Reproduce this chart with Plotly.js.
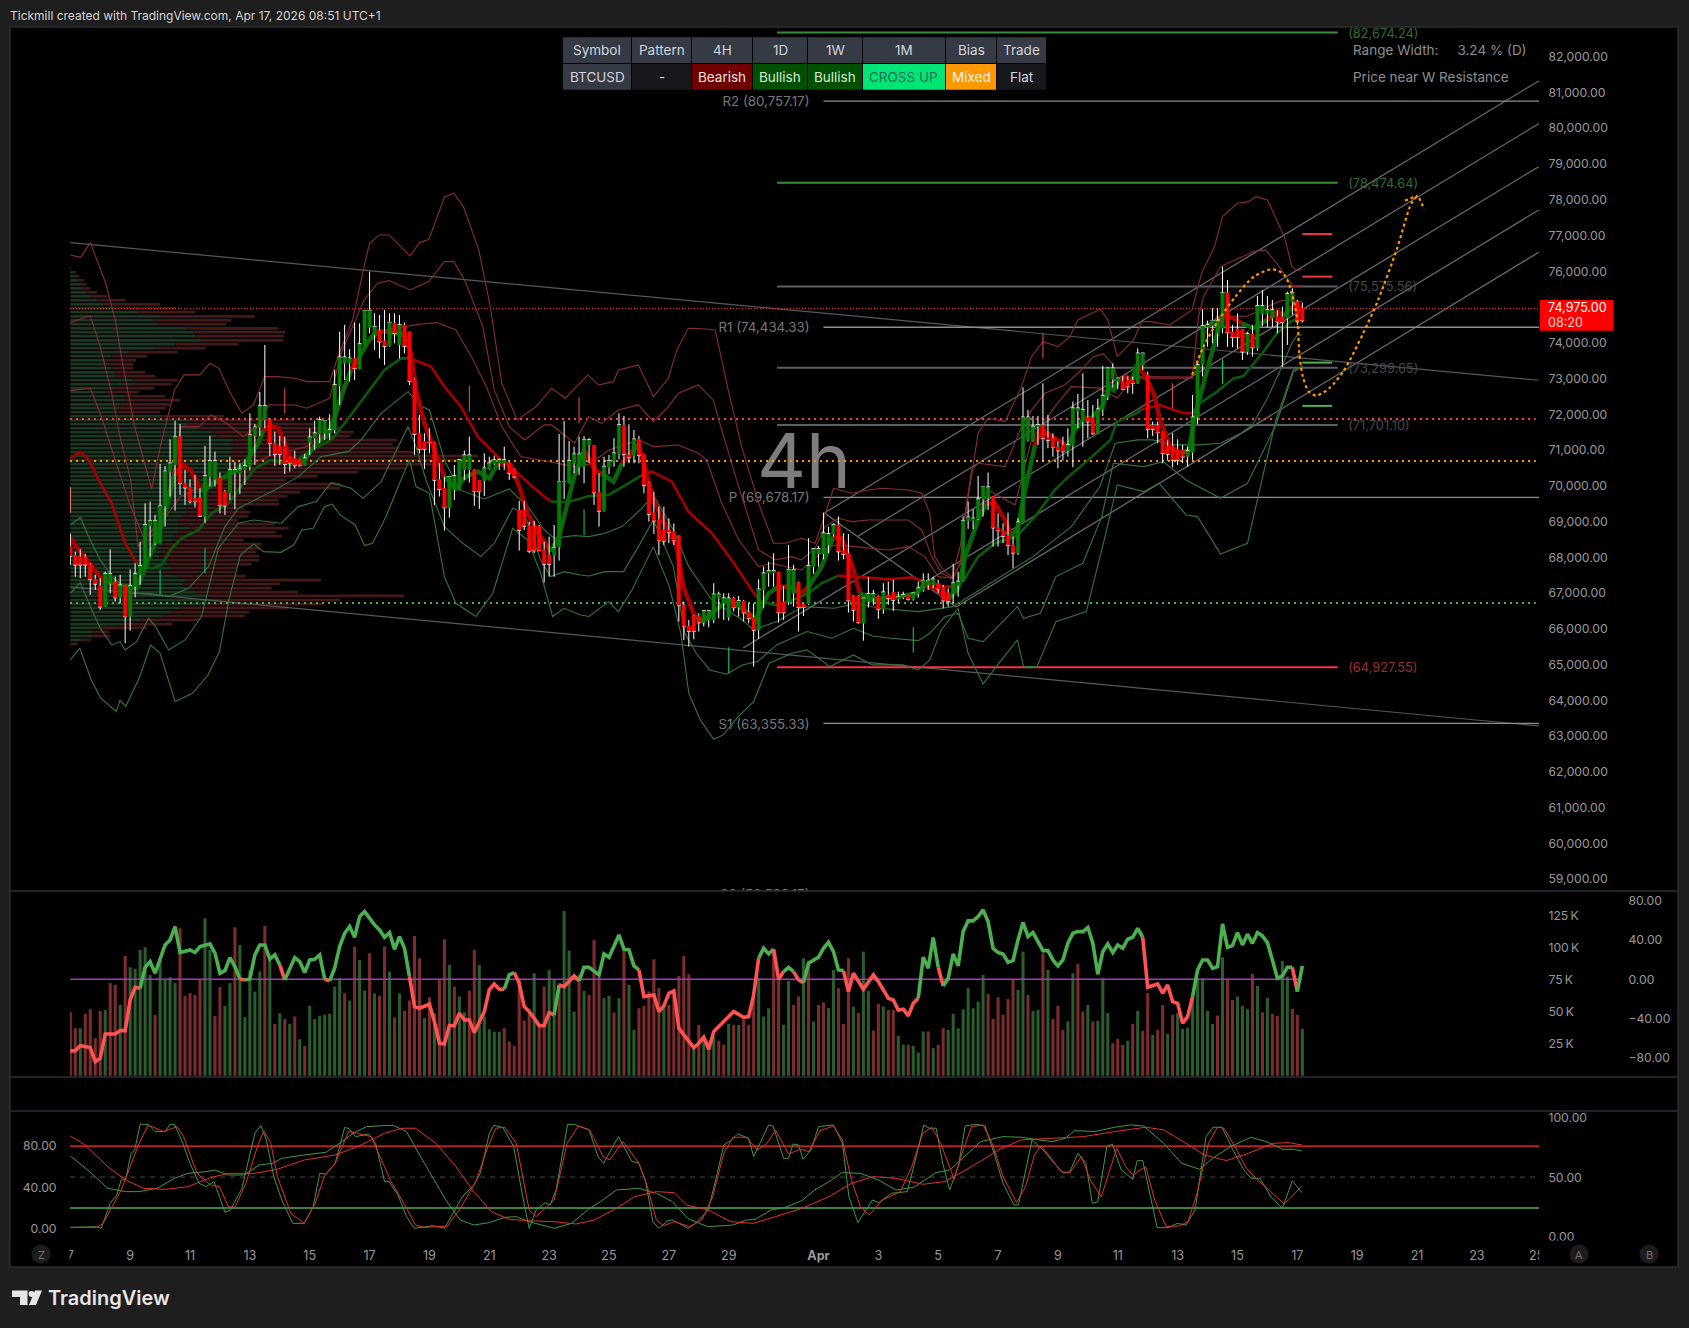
<!DOCTYPE html>
<html><head><meta charset="utf-8">
<script src="https://cdn.plot.ly/plotly-3.0.1.min.js"></script>
<style>html,body{margin:0;padding:0;background:#1e1e1e;overflow:hidden}#c{width:1689px;height:1328px}</style>
</head><body><div id="c"></div>
<script>
// ---------- candles: [open, high, low, close] per 4h bar, bar 0 = 7 March ----------
const candles=[
[68300,68670,67790,68040],[68060,68160,67460,67790],[68020,68225,67415,67790],[68000,68095,67460,67790],[67805,67835,66950,67385],
[67385,67510,67090,67260],[67200,67415,66530,66620],[66620,67600,66620,67535],[67275,68225,66995,67535],[67310,67460,66760,66875],
[66875,67510,66715,67220],[67220,67230,65600,66345],[66345,67665,65950,67200],[67180,67835,66880,67535],[67510,68440,67230,67760],
[67695,69510,67695,68905],[68880,69560,68020,69020],[68395,69185,68345,69020],[68395,70610,68395,69440],[69420,70555,68860,70405],
[70390,71300,69700,70630],[70585,71815,69305,71375],[71375,71730,69745,70070],[70070,70445,69465,69950],[69960,70180,69510,69560],
[69650,70305,69400,69560],[69660,69930,69140,69160],[69140,71115,68970,70275],[70255,71395,69980,70695],[70180,70955,69980,70695],
[70220,70370,69230,69455],[69840,69885,69185,69445],[69790,70815,69605,70445],[70350,70675,69345,70445],[70340,70630,69770,70460],
[70445,70740,70025,70555],[70535,72030,70425,71420],[71395,71730,70585,71635],[71635,72625,71395,72235],[71840,73940,71610,72235],
[71860,71890,70835,71190],[71190,71515,70555,70890],[71115,71395,70585,70890],[71115,71375,70330,70610],[70800,70815,70400,70630],
[70770,70975,70490,70585],[70740,70740,70535,70575],[70565,70890,70565,70770],[71210,71610,70860,71355],[71330,71825,71005,71470],
[71450,71935,71190,71840],[71470,71840,71285,71825],[71470,72000,71285,71560],[71560,73240,71470,72820],[72790,74310,72260,73595],
[73425,74500,72960,73595],[73425,73820,72915,73565],[73565,74565,72960,73285],[73260,74545,73260,73965],[73940,74917,73940,74900],
[74430,75990,74265,74900],[74220,74825,73800,74450],[74340,74780,73565,74030],[74060,74915,73380,73910],[73910,74825,73890,74565],
[74545,74825,73985,74265],[73940,74780,73565,74500],[74500,74565,73705,73910],[74310,74310,72820,72930],[72980,73005,70860,71450],
[71470,71980,70910,71030],[71245,71470,70470,71030],[71245,71610,70910,71210],[71215,71235,69465,70165],[70180,70630,69700,69905],
[69930,70255,68750,69390],[69380,70275,69110,70255],[69885,70585,69605,70275],[69885,70725,69885,70725],[70445,70985,70165,70855],
[70445,71375,70090,70855],[70445,70465,69440,69840],[70165,70165,69355,69840],[70145,70910,69715,70490],[70460,70815,70445,70630],
[70610,70845,70585,70725],[70630,70770,70445,70725],[70630,71095,70445,70725],[70630,70650,70165,70350],[70480,70490,70210,70255],
[69325,69575,68190,68765],[69325,69575,68765,68880],[68895,69000,68115,68180],[68860,69020,68115,68190],[68860,68905,68190,68190],
[68205,68440,67295,67815],[68065,68580,67460,67815],[68050,68905,67460,68270],[68280,71450,67910,70120],[70090,71815,69625,70120],
[70090,71255,70070,70695],[70630,71095,70350,70880],[70510,71375,70305,70880],[70535,71395,70070,71285],[71140,71330,70630,71280],
[71140,71140,69465,69810],[69820,70350,68860,69300],[69300,70815,69280,70535],[70510,70865,70330,70695],[70695,71330,70535,70910],
[70890,72030,70740,71700],[71700,71955,70535,70890],[70865,71720,70630,70800],[70845,71560,70630,71300],[71300,71395,70630,70865],
[70890,70890,69790,70025],[70090,70115,69000,69215],[69250,69835,68655,69025],[69045,69420,68065,68470],[68765,69420,68345,68460],
[68765,69090,68395,68700],[68720,68950,68345,68470],[68610,68610,66205,66660],[66660,66760,65690,66065],[66080,66250,65505,65940],
[66370,66390,65710,65940],[66370,66435,65925,66175],[66175,66510,66065,66500],[66250,66500,66045,66500],[66250,67275,66155,66965],
[66855,67040,66295,66965],[66715,66995,66250,66855],[66325,66995,66230,66855],[66855,66900,66485,66595],[66595,66920,66345,66780],
[66780,66810,66205,66455],[66475,66715,66155,66295],[66315,66715,64945,65970],[65970,67385,65720,67105],[67090,67740,66575,67555],
[67555,67880,67180,67620],[67555,68115,67180,67620],[67590,67600,66175,66455],[66760,67200,66250,66455],[66735,68345,66670,67650],
[66995,67790,66620,67650],[67300,67320,65925,66605],[66695,66715,66360,66605],[66695,68535,66670,67760],[67740,68240,67540,68235],
[68095,68320,67740,68235],[68095,69250,67945,68675],[68345,68860,68115,68655],[68655,68950,68580,68905],[68905,69140,67910,68160],
[68190,68675,67945,68095],[68115,68655,66455,66790],[66930,66950,66205,66530],[66930,66950,66155,66175],[66155,66855,65670,66855],
[66760,67445,66595,66975],[66855,67090,66670,66975],[66930,66950,66280,66550],[66550,67275,66420,67025],[66950,67320,66670,66855],
[67025,67370,66500,66810],[66830,67040,66715,66900],[66875,67040,66830,66950],[66950,66950,66790,66830],[66830,66995,66790,66995],
[66975,67320,66875,67135],[67090,67555,67040,67350],[67230,67555,67090,67350],[67230,67460,67135,67385],[67275,67370,66995,67105],
[67165,67230,66575,66790],[67015,67135,66620,66780],[66975,67815,66715,67275],[67210,67600,66900,67320],[67320,69140,67320,69020],
[69020,69560,68795,69120],[69020,69345,68785,69090],[69075,70275,69045,69625],[69625,69980,69140,69980],[69650,70370,69325,69960],
[69700,69715,68300,68830],[68840,69230,68300,68750],[68765,68950,68395,68600],[68600,69250,68065,68345],[68345,68580,67695,68130],
[68130,69090,68065,68980],[68980,72755,68980,71915],[71265,72120,71235,71915],[71265,71955,71235,71655],[71655,71955,71140,71700],
[71685,72865,70675,71330],[71345,71980,71050,71280],[71330,71470,70815,71075],[71085,71235,70490,70985],[71140,71375,70705,70960],
[70975,71610,70815,71140],[71125,72355,70520,72170],[72095,72570,71610,72170],[71785,73145,71095,72120],[71905,72400,71330,71795],
[71905,72260,71420,71470],[71470,72430,71470,72140],[72140,73350,71955,72510],[72475,73315,72400,73285],[72980,73425,72755,73285],
[72915,73005,72700,73005],[72925,73070,72680,72700],[72960,73055,72590,72775],[72960,73055,72570,72865],[72865,73845,72850,73705],
[73380,73705,73240,73705],[73100,73195,71330,71590],[71700,71795,71395,71590],[71685,71795,71190,71490],[71515,71515,70630,70910],
[71115,71265,70705,70890],[71115,71470,70520,70725],[71020,71300,70585,70725],[71000,71145,70630,70815],[70815,71095,70535,70975],
[70930,72540,70725,71915],[71915,73500,71730,73380],[73380,74935,73055,74470],[74435,74620,73890,74500],[74470,74965,73985,74620],
[74265,74965,73890,74610],[74405,76130,74265,75400],[75400,75755,73890,74285],[74310,74500,73875,74155],[74385,74825,73845,74155],
[74385,74385,73520,73750],[73750,74310,73660,74245],[74245,74500,73615,73865],[73845,75310,73780,75030],[74805,75475,74470,75030],
[74805,75310,74435,74915],[74685,75195,74435,74915],[74730,74915,74265,74590],[74730,75010,73325,74575],[74685,75430,73940,75365],
[75150,75525,74780,75400],[75150,75195,74500,74610],[74975,75120,74565,74620]];

// ---------- volume (thousands) and up/down flag per bar ----------
const volume=[49.7,37.2,37.2,48.4,52,29.4,50.8,51.5,72.4,71.1,55.4,93.7,84.9,83.6,98.4,100.5,78.9,47.6,90.6,75,
77.1,72.4,115.3,62.5,64.6,63.3,75,123.2,98.4,46.9,69.3,54.7,72.4,116.1,102.3,45.8,82.8,65.9,81.5,117.2,
91.9,40.6,48.9,44.3,40.6,46.3,28.6,23.4,54.7,44.3,46.9,47.6,48.4,69.8,76.3,64.6,58.8,101,90.6,66.7,
95.8,64.4,62.5,101,81.5,45.6,64.4,50.8,58.8,109.3,91.9,45,61.4,48.9,75.5,106.7,86.7,69.8,62,49.7,
66.4,98.4,86.7,46.3,36.4,34.4,34.4,37.2,26.8,23.4,76.3,43.2,49,80.2,38.5,69.8,82.8,75.5,72.4,128.9,
97.9,50.2,78.9,66.4,63.3,106.2,77.6,60.7,62.5,49.5,60.7,98.4,71.1,35.9,52.8,54.7,65.9,91.1,68.5,54.7,
55.4,67.2,78.1,93.7,79.4,21.6,39.8,30.7,26.8,30.7,27.3,24.2,40.6,39.8,39.8,43.7,39.8,62,76.3,46.3,
52.8,97.1,76.3,39.8,74.2,55.4,62,91.9,89.3,42.4,55.4,57.3,52.8,82.8,68.5,40.6,91.9,54.1,49,97.1,
66.4,35.4,56.2,54.1,51.5,51.5,31.2,24.2,24.2,23.4,18.2,34.6,34.6,21.6,24.2,37.2,35.9,48.4,37.2,52,
68.5,52.8,58,78.9,64,44.5,61.4,47.6,59.9,75,67.2,97.1,63.3,50.8,51.5,95.8,82.8,44.5,54.7,35.9,
42.4,80.2,87.5,50.2,55.4,42.4,43,76.3,49,25.5,28.9,24.2,27.3,40.6,50.8,35.1,64.6,32,35.9,55.4,
32.8,47.6,49,36.7,37.7,62,76.3,76.3,50.8,40.6,47.1,92.7,75.5,59.4,62,54.7,52.1,79.7,70.3,49.7,
60.9,48.4,46.9,89.8,77.6,52.3,47.6,36.7];
const volumeUp=[0,0,1,0,0,0,0,1,0,0,1,0,1,1,1,1,1,0,1,1,
1,1,0,0,0,0,0,1,1,0,0,1,1,0,1,1,1,1,1,0,
1,0,1,0,1,0,1,0,1,1,1,1,1,1,1,0,1,0,1,1,
0,1,0,0,1,0,1,0,0,0,0,1,0,1,0,0,1,0,1,1,
0,0,1,1,1,1,1,0,0,0,0,0,0,1,0,0,1,1,0,1,
1,1,0,1,0,0,0,1,1,0,1,0,1,1,0,0,0,0,0,1,
0,0,0,0,0,1,0,1,0,1,0,0,1,0,1,0,0,0,1,1,
1,0,0,1,1,0,0,1,0,1,0,0,1,1,0,0,0,1,0,1,
1,0,0,1,0,0,1,1,0,1,1,1,0,1,0,0,1,1,1,1,
1,1,1,1,0,0,0,0,0,0,1,1,0,1,1,0,1,0,0,0,
1,1,0,0,1,0,1,1,1,0,0,0,1,0,1,0,0,1,0,0,
1,0,1,1,1,1,1,1,1,1,0,1,0,0,1,1,1,0,1,0,
1,0,0,1,1,0,0,1];

// ---------- volume profile rows ----------
const profilePrice=[76080,75970,75860,75745,75635,75520,75410,75300,75190,75075,74965,74855,74740,74630,74520,74405,74295,74185,74070,73960,
73850,73735,73625,73510,73400,73290,73175,73065,72955,72840,72730,72620,72505,72395,72280,72170,72060,71945,71835,71725,
71610,71500,71390,71275,71165,71055,70940,70830,70720,70605,70495,70385,70270,70160,70050,69935,69825,69710,69600,69490,
69375,69265,69155,69040,68930,68820,68705,68595,68485,68370,68260,68150,68035,67925,67810,67700,67590,67475,67365,67255,
67140,67030,66920,66805,66695,66585,66470,66360,66250,66135,66025,65915,65800,65690,65580,65470];
const profileBuy=[.16,.54,.93,1.7,2.23,2.46,3.2,4,5.4,6.7,9,13.6,18.2,16.65,17.55,23.2,24.7,25.1,26,21.1,
17,11.7,8.2,7.1,7.45,8.2,8.8,9,12.6,12.8,9,7.1,10.7,10.9,10.1,9.75,9.4,18.2,24.3,23.55,
25.85,28.5,29.3,32.75,32.4,32.75,32.4,32,32.75,32.4,32.4,32,19.7,30.2,29.4,28.7,27.9,27.1,26.4,25.2,
23.3,23.3,22.5,21.4,21.4,24.1,21.4,21,20.6,18.7,18.3,18.3,17.9,19.5,19.9,20.2,18.3,21.4,23.3,22.5,
23.7,25.2,27.5,29.8,27.1,21.8,20.2,18.7,14.1,10.7,6.4,4.5,4.5,2.2,0,0];
const profileTotal=[.16,1.16,1.77,2.69,3.3,4.07,5.4,7.45,11.05,18,21.25,25.1,37,32.2,31.2,41.7,43.1,42.9,42.7,33.7,
27.2,21.5,15.4,13.2,12.6,12.65,15,17,21.5,20.3,16.8,13.7,19,22,20.1,19.2,18,30.8,44.9,48.9,
54.1,56.8,56.15,65.5,64.6,66,69.2,81.8,81,75.3,67.3,57.7,49.6,43.3,54.1,54.1,46.1,43.5,41.7,41.9,
34.8,36.1,35.6,33.7,41,43.8,41.2,42.5,34.8,38.3,38.1,37.3,37.9,37.9,36.3,33.4,33.3,35.2,50.3,42.1,
40.4,45.7,66.9,54.1,50.7,43.7,35.9,35,25.8,20.5,15.3,7.8,8,4.1,1.5,.1];

// ---------- moving averages: [bar, price, up] ----------
const slowMA=[[0,70770,0],[2,70940,0],[3.7,70740,0],[5.3,70255,0],[8.3,69510,0],[11,68395,0],[13.3,67835,1],[16.3,67685,1],[18.3,67790,1],[20.3,68255,1],[22.3,68535,1],[25.7,68765,1],[28.3,69230,1],[31.7,69510,1],[35,70120,1],[37,70490,1],[40.3,70725,1],[44.3,70585,1],[47.7,70955,1],[52.3,71285,1],[55,71750,1],[59,72495,1],[63,73240,1],[66.3,73565,1],[68,73565,0],[69,73520,0],[72.3,73335,0],[75,72775,0],[78.3,72215,0],[81.7,71375,0],[85.7,70815,0],[89,70445,0],[93,69930,0],[96.3,69560,1],[99.7,69540,1],[104,69715,1],[107.9,69745,1],[111.9,70070,1],[115.2,70350,0],[116.6,70395,0],[120.6,70115,0],[123.9,69280,0],[128.6,68675,0],[132.6,67925,0],[137.3,66950,0],[138.6,66760,1],[141.3,66670,1],[144,66760,1],[148,66995,1],[150.6,67275,1],[154,67490,0],[159.3,67440,0],[164,67385,0],[168.7,67440,0],[171.4,67320,0],[175.4,67180,0],[177.4,67180,1],[179.4,67415,1],[182,68020,1],[185.4,68395,1],[189.7,68580,1],[193.4,69140,1],[197.4,69885,1],[200.1,70255,1],[204.1,70725,1],[208.5,71280,1],[209.8,71795,1],[213.8,72030,1],[214.8,72140,0],[218.5,72260,0],[223.2,72030,0],[224.8,72030,1],[226.5,72310,1],[229.9,72635,1],[233.2,73005,1],[235.2,73070,1],[239.2,73750,1],[241.9,74265,1],[244.6,74590,1],[246.2,74685,1]];
const fastMA=[[0,68535,0],[3,67975,0],[6.7,67320,1],[13.3,67135,1],[14.7,67600,1],[16.3,68160,1],[18.3,68905,1],[19.7,69605,1],[21,70350,0],[22.7,70585,0],[24.3,70400,0],[26,69885,1],[27,69885,1],[29.7,70165,1],[32.3,70350,1],[35,70630,1],[37.7,71190,1],[38.7,71560,0],[40,71675,0],[41.7,71610,0],[43,71190,0],[44,70815,0],[45.7,70630,1],[47,70725,1],[49.3,71190,1],[51.7,71425,1],[53,71935,1],[55,72775,1],[56.3,73240,0],[58,73610,1],[59.7,74030,1],[61.3,74310,0],[63.7,74310,1],[67,74220,0],[68.3,73705,0],[69.3,72680,0],[71,71750,0],[73,71005,0],[75,70255,1],[77.3,69930,1],[79.3,70255,1],[81.7,70400,1],[84,70210,1],[85.7,70630,0],[88.3,70585,0],[90,69980,0],[91.7,69230,0],[94.3,68580,0],[96.3,68160,1],[98,68580,1],[101,70255,1],[103,71000,0],[105.2,70445,0],[106.9,70305,1],[108.9,70115,1],[110.6,70630,0],[112.9,71005,1],[113.9,71140,0],[115.2,70535,0],[116.9,69605,0],[119.2,68950,0],[121.6,68300,0],[122.9,67180,0],[125.2,66340,1],[126.9,66200,1],[128.6,66435,1],[131.9,66810,1],[136,66435,1],[137.3,66250,1],[140,66995,1],[142,67180,0],[144,67180,1],[146.6,66995,0],[148,67180,1],[150.6,67740,1],[153,68580,0],[154.6,68530,0],[156.6,67835,0],[158.3,66995,1],[160.6,66810,1],[163,66855,0],[166,66900,1],[169.7,66995,1],[171,67230,0],[173.3,67135,0],[176,66810,1],[178,67135,1],[179.4,68020,1],[182,69045,1],[183.7,69510,0],[185.4,69510,0],[187.4,69045,0],[188.7,68580,1],[190,68860,1],[191,69605,1],[193.4,71140,0],[194.7,71560,0],[197.4,71330,0],[200,71095,1],[201.4,71560,1],[203.4,71890,0],[204.7,71890,1],[206.8,72215,1],[208.5,72775,1],[209.2,72680,1],[210.2,72960,0],[211.8,73055,0],[212.8,72915,1],[213.8,73380,0],[215.2,73145,0],[217.2,72590,0],[218.5,71840,0],[220.5,71095,0],[222.5,70910,1],[224.2,71000,1],[225.8,72120,1],[227.9,73240,1],[230.5,74545,0],[231.5,74780,0],[233.2,74685,0],[234.9,74545,1],[237.2,74405,1],[239.9,74640,0],[242.2,74870,0],[243.2,74730,1],[244.6,74965,0],[246.2,75010,0],[247,74965,0]];

// ---------- bands: [bar, price] ----------
const upper1=[[0,76456],[2.1,76391],[4,76800],[7.1,75664],[9,74639],[10.6,73334],[12.9,71656],[16.3,69913],[18.2,71190],[20.9,72682],[22.8,73101],[25.9,73101],[28,73427],[29.8,73287],[32.1,72588],[34.4,72029],[36.7,72262],[39,73054],[41.3,73054],[45.1,73008],[47.4,72915],[52,72915],[53.9,73707],[56.6,74639],[58.9,76130],[60,76782],[62,77015],[63.9,77015],[68.1,76428],[70,76801],[71.9,76894],[75,78069],[76.9,78180],[78.8,77808],[81.9,76596],[84.2,75012],[86.5,72868],[89.6,71843],[93.4,72216],[96.5,72728],[99.2,72449],[103.8,73101],[105.9,72820],[108.9,72913],[109.9,73240],[113.9,73380],[116.9,72494],[119.9,73007],[121.6,73799],[123.9,74405],[126,74400],[129.3,74358],[131.9,72680],[134.6,71096],[138,69512],[141,68393],[143.3,68393],[146.6,68533],[149.3,68393],[151,69046],[153,69931],[156.6,69791],[160,69884],[162.7,69931],[168,69884],[170.7,69791],[172.3,69232],[173.3,68020],[175,67648],[177,67415],[178.4,67834],[179.4,69139],[182,71469],[184,71888],[187.4,71795],[190.7,72774],[192.7,73612],[195,74032],[198,73892],[200.4,74172],[202,74640],[206.5,74937],[208,74639],[209.9,73613],[213.2,74080],[214.8,74592],[216.6,74592],[220.4,74499],[224.9,74918],[226.8,75944],[229.4,76689],[231,77528],[234,77901],[236.2,77947],[237.7,78087],[240,77994],[243.4,76969],[244.9,76130],[246,76018],[247,76055]];
const upper2=[[0,74564],[4,74760],[6,73893],[8.3,72588],[9.8,71470],[12.1,70165],[13.6,68301],[18.2,69047],[20.9,70538],[22.1,71657],[25.9,71657],[28.2,71983],[31.3,71750],[34.7,71377],[38.2,71750],[39.7,72262],[45.1,72262],[47.4,72169],[52,72449],[54.3,73707],[58.9,75198],[61.6,75664],[63.9,75739],[68.1,75478],[71.9,75711],[75,76270],[76.9,76270],[79.2,75711],[82.7,74453],[85,72682],[88,71657],[91.1,71283],[95,71703],[96.5,71703],[101.1,71190],[103.9,71935],[106.5,71748],[109.9,72121],[113.9,72261],[116.9,71795],[119.9,72214],[121.9,72587],[125.9,72820],[128.9,72401],[130.6,71562],[134,69978],[138,68207],[141.3,67927],[144.6,68020],[146.6,67927],[149.3,68253],[151.3,68859],[154,69092],[156.6,68999],[160,69046],[168,69046],[170.7,68766],[172.7,68020],[174.7,67554],[176.7,67415],[178.4,68300],[180.7,70444],[182,70630],[187.4,70537],[190.7,71655],[192.7,72121],[195.4,72587],[199.4,72820],[202.7,73240],[205.1,73610],[207.1,73690],[208.8,73430],[210,73000],[214,73010],[222,73010],[224.9,73010],[226.2,74732],[227.2,75291],[230.6,76130],[234.3,76363],[237.3,76550],[239.6,76596],[241.9,76223],[243.7,75850],[245.2,75571],[247,75590]];
const upper3=[[0,72663],[4,72728],[6,72029],[9,70724],[12.1,69420],[15.2,68394],[22.1,69700],[32.1,70352],[39.7,70818],[47.4,71097],[52.8,71656],[56.6,73334],[58.9,73893],[62.7,74359],[70.4,74527],[73.5,74564],[77.3,74359],[80.4,73614],[83.4,72775],[86.5,71656],[90.3,70817],[95.7,70678],[101.1,70538],[104,70600],[108,71000],[113.9,71282],[116.9,71096],[121.9,71143],[125.9,70910],[127.6,70723],[130.6,69512],[134,68486],[138,67741],[140.6,67834],[146.6,67648],[152,68300],[154,68347],[157.3,68300],[164,68207],[168,68300],[171.3,68020],[174,67461],[176.7,67415],[179.4,68020],[182,69139],[184,69884],[189.4,69465],[192.7,71282],[197.4,72214],[200.7,72774],[206.5,72731],[209.9,72449],[213.2,73054],[225,73040],[226,73300],[227.5,74280],[230,74750],[236,74740],[240,75010],[243,75190],[247,75150]];
const lower1=[[0,68906],[2,69120],[4,68487],[6,67927],[8.3,67461],[12.3,66995],[15.7,66995],[19.7,66902],[23.7,67135],[27.7,67741],[31,68859],[33.7,69372],[37,69605],[41,69885],[45.7,70257],[50.3,70817],[55.7,70956],[58.3,71283],[62.3,72028],[67.7,72634],[70.3,72233],[72,72121],[75,70723],[78,69885],[83,69633],[88,69913],[92,69372],[95,68766],[97,68533],[101,68608],[104,68580],[107.2,68673],[110.6,68859],[114.6,69372],[116.9,69745],[120.9,68766],[124,67741],[128.6,66809],[134.7,66250],[137,65970],[141.6,66203],[147,66622],[153.1,66576],[157.7,66716],[162.3,66576],[170,66483],[176.9,66622],[182.3,67089],[193,68020],[200.7,68859],[206.4,69978],[209.5,71190],[214,71284],[217,71284],[220.8,71144],[226,71144],[230.6,71190],[234.7,71470],[237,71703],[240,72449],[242.6,73241],[244.9,73986],[246,74219],[247,74219]];
const lower2=[[0,66995],[2,67294],[4,66623],[6,66017],[8.3,65551],[10,65644],[11,65411],[13.3,65644],[15.7,66296],[17.1,66063],[19.7,65411],[23,65690],[26.3,66343],[29.7,68254],[33.7,68953],[36.7,69046],[42.3,68953],[45.7,69419],[49.3,69558],[52.3,70090],[56.3,69931],[58.7,69651],[62.3,70118],[67.7,71655],[69.3,71096],[71.3,70164],[75,68859],[78.7,68393],[82.3,68021],[85,68393],[88.7,69372],[91,69232],[94.3,67927],[96.3,67461],[99,67601],[102.3,67508],[104,67480],[107.2,67601],[110.9,67601],[113.9,68300],[116.9,69046],[120.9,67741],[123.2,65877],[125.5,65318],[128.2,64852],[131.6,64731],[134.7,64992],[137.8,65085],[141.6,65551],[147.7,65924],[152.7,65737],[157,66017],[160.8,65802],[164.6,65737],[170,65672],[172.3,65877],[175.4,66343],[178,66436],[180,65737],[183,65644],[189.9,66622],[191.1,66297],[194.5,66436],[197.6,67461],[203,67834],[206.8,69139],[209.1,70630],[215.2,70537],[219.1,70677],[223.7,70164],[230.6,69652],[236,70071],[241.7,71701],[245.2,73183],[247,73334]];
const lower3=[[0,65130],[1.9,65460],[4.2,64570],[6.1,64060],[9.2,63690],[10,64010],[11.1,63830],[13.8,64620],[16.1,65550],[18,65320],[21,63970],[24.5,64200],[27.6,64710],[29.9,65365],[31.8,66810],[34.1,68065],[36.8,68375],[38.7,68160],[42.2,68140],[44.8,68345],[46.4,68765],[48.7,68815],[51,69420],[52.5,69485],[54.1,69185],[57.1,68905],[59,68330],[60.6,68395],[63.3,69140],[65.6,69930],[68,70725],[69.3,69980],[72,69790],[75,67460],[77.3,66715],[81.3,66345],[84.7,66995],[88.7,68815],[91.7,68485],[94.3,67555],[96.7,66345],[99,66575],[102.3,66390],[104,66345],[107.9,66762],[109.9,66482],[112.6,67088],[116.9,68300],[120.1,67182],[122.4,65877],[124,64199],[126.3,63454],[129,62913],[130.9,63035],[133.9,63547],[137,63967],[140.1,65038],[144.7,65318],[147.7,65411],[152.3,64945],[157,65271],[160.8,64992],[166.9,64992],[170,64852],[172.3,65131],[174.6,65970],[178,66576],[180,65318],[183,64460],[187.2,65225],[189.9,65691],[191.1,64945],[193.8,64945],[197.6,66203],[203.7,66483],[207.6,68673],[209.9,70024],[215.2,69838],[218.3,70071],[223.7,69186],[226,69139],[230.6,68095],[236,68393],[238.9,70163],[241.7,71840],[245.2,73239],[247,73334]];

// ---------- oscillator in the volume pane: [bar, value, up] ----------
const momentum=[[0,-73.1,0],[1,-72.8,0],[2,-67.7,0],[4,-69.7,0],[5,-84,0],[6,-80.6,0],[7,-55.8,0],[9,-55.8,0],[10,-52.4,0],[11,-52.4,0],[12,-21.1,0],[13,-8.2,0],[14,-9.2,1],[15,12.2,1],[16,18,1],[17,6.1,1],[19,35,1],[20,40.1,1],[21,53.7,1],[22,27.2,1],[24,29.9,1],[25,27.2,1],[26,33.3,1],[28,36,1],[29,26.5,1],[30,6.1,1],[31,8.8,1],[32,22.1,1],[33,12.9,1],[34,.3,0],[35,-.7,1],[36,.3,1],[37,24.8,1],[38,35,1],[39,35,1],[40,20.7,1],[41,24.8,1],[42,14.6,0],[43,-.7,1],[45,22.1,1],[46,18,1],[47,6.8,1],[48,19.7,1],[49,20.4,1],[50,24.8,1],[51,0,0],[52,-1.7,1],[53,11.2,1],[54,33.3,1],[55,46.9,1],[56,53.7,1],[57,42.8,1],[58,63.9,1],[59,69,1],[61,55.4,1],[62,50.3,1],[63,42.8,1],[64,47.6,1],[65,30.6,1],[66,43.5,1],[67,31.6,1],[68,2.7,0],[69,-27.9,0],[70,-29.6,0],[72,-25.5,0],[73,-43.2,0],[74,-65.3,0],[75,-66,0],[76,-47.3,0],[77,-47.3,0],[78,-34.7,0],[79,-41.5,0],[80,-41.5,0],[81,-54.4,0],[83,-33,0],[84,-10.9,0],[85,-4.8,0],[86,-10.2,0],[87,-10.2,1],[88,4.4,1],[89,6.8,0],[90,-4.1,0],[91,-27.9,0],[92,-33,0],[93,-39.8,0],[94,-47.3,0],[95,-47.3,0],[96,-34,0],[97,-36.4,1],[98,-5.8,0],[99,-7.5,0],[101,3.4,0],[102,-1.7,1],[103,12.2,1],[104,12.2,1],[106,4.4,1],[107,25.8,1],[108,22.4,1],[110,45.2,1],[111,30.6,1],[112,29.9,1],[113,13.6,1],[114,9.5,0],[115,-17.7,0],[117,-16,0],[118,-33,0],[119,-27.2,0],[120,-14.3,0],[121,-11.9,0],[122,-50,0],[123,-56.8,0],[125,-69.7,0],[126,-65.3,0],[127,-59.2,0],[128,-71.4,0],[129,-53.4,0],[131,-43.2,0],[133,-33,0],[135,-38.8,0],[136,-38.1,0],[137,-16,0],[138,21.4,1],[139,31.6,1],[140,25.8,1],[141,30.9,0],[142,0,0],[143,7.8,1],[144,12.2,1],[145,7.8,0],[146,-.7,0],[147,-3.4,1],[148,16.3,1],[150,22.4,1],[151,31.6,1],[152,37.7,1],[153,28.2,1],[154,9.5,1],[155,8.8,0],[156,-12.6,0],[157,6.1,0],[159,-10.2,0],[161,4.4,0],[162,-2.4,0],[164,-19.4,0],[165,-21.1,0],[166,-31.3,0],[167,-30.6,0],[168,-37.4,0],[169,-24.5,0],[170,-19.4,1],[171,22.4,1],[172,11.2,1],[173,42.5,1],[174,12.2,0],[175,-6.8,1],[176,1,1],[177,25.8,1],[178,13.6,1],[179,48.6,1],[180,59.5,1],[181,59.5,1],[182,63.9,1],[183,70.7,1],[184,58.8,1],[185,31.6,1],[186,27.2,1],[187,25.8,1],[188,17.3,1],[189,19,1],[190,40.1,1],[191,57.8,1],[192,43.5,1],[193,47.6,1],[195,29.2,1],[196,29.2,1],[197,19.7,1],[198,13.6,1],[199,19.7,1],[200,36.7,1],[201,46.9,1],[202,48.6,1],[203,48.6,1],[204,52.7,1],[205,36.7,1],[206,5.1,1],[207,28.2,1],[208,36,1],[209,27.2,1],[210,35,1],[211,31.6,1],[212,40.8,1],[213,42.8,1],[214,52,1],[215,42.8,0],[216,-8.2,0],[218,-4.8,0],[219,-14.3,0],[220,-5.8,0],[221,-22.8,0],[222,-24.5,0],[223,-44.9,0],[224,-38.1,0],[225,-17.7,1],[226,9.5,1],[227,19.7,1],[228,19.7,1],[229,11.2,1],[230,12.9,1],[231,56.4,1],[232,32.6,1],[233,34.3,1],[234,47.6,1],[235,35,1],[236,45.9,1],[237,36.7,1],[238,47.6,1],[239,44.2,1],[240,37.4,1],[241,19.7,1],[242,1,1],[243,3.4,1],[244,12.2,1],[245,12.2,0],[246,-12.6,1],[247,13.6,1]];

// ---------- stochastics: [bar, value] ----------
const stochFastG=[[0,1.3],[5.3,2],[6.2,.4],[8,24.6],[9.3,32.6],[10.2,47.2],[11.1,47.8],[12.2,73],[12.9,76],[14,101],[15.6,101],[17,94],[19,94],[20,101],[20.9,101],[22.3,85.9],[24,63.3],[25.8,44],[27.2,40.7],[28.8,45.6],[29.9,31],[31,15.9],[32.1,18.1],[34.4,39],[37,92.3],[38.2,100],[39.3,85.9],[40.8,50.4],[42.4,27.8],[44.6,5.2],[46.9,5.2],[48.7,21.4],[50,53.6],[51.3,53],[53.1,63.3],[55,98],[55.9,97],[57.2,89.1],[59.8,91.7],[61.2,82.7],[63,45.6],[63.9,45.6],[65.7,32.6],[67.4,11.7],[69,.4],[72.8,3],[75,.4],[77.3,19.7],[78.6,31],[80.9,42.3],[82.2,53.6],[84,92.3],[84.9,100],[86.7,98],[88.9,79.4],[90.7,31],[92,.4],[93.4,18.1],[95.2,25.2],[96.2,22.9],[97.4,37.5],[99.7,101],[101,101],[104,95.6],[105.8,69.8],[106.9,63.3],[109.9,89.1],[112.6,64.9],[113.9,64],[115.3,47.2],[116.8,6.8],[118,.4],[119.8,7.8],[120.7,8.4],[122,5.2],[123.9,.4],[125.3,5.2],[127.9,18.1],[129.7,53.6],[131,81],[132.4,85.2],[133.8,91.7],[136,87.5],[137,69.8],[140,100.4],[140.9,99.4],[143,68.1],[144,68.1],[144.9,82],[146,81],[146.9,67.2],[148.5,76.2],[150,98.8],[153,100.4],[154.8,82.7],[156.1,31],[157.9,5.9],[160.8,27.8],[162.1,25.2],[164.6,34.3],[167.8,35.9],[169.6,69.8],[171.1,100.4],[172.2,97.2],[173.6,97.2],[174.9,63.3],[176.3,37.5],[178.1,61.7],[179.4,99.4],[181.6,101],[183.4,99.4],[185.2,73],[187,43.9],[189.2,23],[190.1,23],[192.8,85.9],[195,76.2],[197.3,63.3],[199.1,53.6],[200.4,55.2],[202,73],[203.6,63.3],[204.9,24.6],[206,26.2],[207.8,79.4],[208.9,82],[210.7,56.8],[213,47.8],[213.9,65.9],[215,65.9],[217.9,1],[220.1,1],[221.9,5.2],[223.7,3.6],[225.5,18.1],[227.7,89.1],[229.1,98.2],[230.9,98.2],[233.1,76.2],[235.3,56.8],[236.7,48.8],[238.5,48.8],[240.7,31],[243,19.7],[245,46.5],[246.9,34.9]];
const stochFastR=[[0,1.3],[5.3,1.3],[6.6,5.2],[8.4,21.4],[10.2,37.5],[12,60.1],[13.8,82.7],[15.6,100.4],[18.7,94],[21.4,98.8],[22.7,89.1],[25.4,53.6],[28.1,42.3],[29.9,40.7],[31.7,21.4],[33,20.7],[35.2,43.9],[37.5,79.4],[38.8,94.9],[40.2,82.7],[41.5,50.4],[44.2,14.9],[46.9,5.2],[49.1,24.6],[50.9,50.4],[53.1,63.3],[55.8,94],[57.6,92.3],[60.3,89.1],[62.1,69.8],[64.3,45.6],[66.5,27.8],[69.2,3.6],[71,1.3],[73.3,2],[75.5,2],[78.2,19.7],[81.3,45.6],[83.5,76.2],[85.3,97.2],[87.1,98.2],[89.4,82.7],[92,18.1],[93.4,11.7],[95.6,21.4],[97,27.8],[99.6,82.7],[101.9,99.4],[104.1,95.6],[106.8,69.8],[108.1,66.5],[110.8,84.3],[114,63.3],[115.7,40.7],[117.5,8.4],[118.9,2.9],[121.1,6.8],[124.2,2],[126.6,8.4],[128.8,31],[131,73],[132.9,88.5],[135.5,88.5],[137.8,76.2],[139.7,82.7],[141.4,95.6],[144,72.3],[146.3,76.9],[148.1,74.6],[150.3,94.9],[153,99.4],[154.8,85.9],[156.6,47.2],[158.4,21.4],[160.2,13.3],[162.8,27.8],[166.4,35.9],[168.7,60.1],[170.9,92.3],[172.7,98.2],[174.5,82.7],[177.2,48.1],[179,76.2],[180.7,98.8],[183,100.4],[184.8,82.7],[187,50.4],[189.7,25.2],[191.5,40.7],[193.3,71.4],[194.6,80.1],[196.4,69.8],[198.6,55.2],[200.4,54.3],[202.7,69.8],[204.5,47.2],[206.7,31],[209.8,77.8],[211.6,60.1],[213,52],[215.6,60.1],[217.4,27.8],[219.7,2],[222.4,2.9],[224.1,6.8],[225.9,34.3],[228.2,82.7],[230,98.2],[231.3,97.2],[233.5,79.4],[235.8,58.5],[238,47.2],[240.3,37.5],[243.4,23.9],[245.2,32.6],[246.9,41.4]];
const stochSlowG=[[0,70.4],[3.9,55.2],[7.5,39.1],[11.1,35.9],[13.8,35.9],[17.4,39.1],[20.9,48.8],[23.6,53.6],[27.2,55.2],[29,56.8],[31.7,52],[34.8,52],[37.9,61.7],[40.6,63.3],[42.4,68.1],[46.9,71.4],[51.3,74],[54,82.7],[56.7,92.3],[59.4,98.8],[63,99.8],[64.8,99.8],[67.4,94],[71,63.3],[75.5,26.2],[78.2,8.4],[80.9,3.6],[84,5.9],[87.1,11],[89.4,11.7],[92,6.8],[97,.4],[100.5,5.2],[104.1,19.7],[106.3,26.2],[109.5,37.5],[114,39.1],[117.5,34.3],[120.7,26.2],[123.8,10],[126.1,5.2],[127.9,2],[132.9,3.6],[135.5,8.4],[137.3,9.1],[140.5,18.1],[143.2,20.4],[146.7,27.2],[149,36.8],[152.1,45.6],[154.8,54.3],[158.4,53.6],[162,47.2],[165.5,37.5],[169.1,40.1],[173.6,54.3],[176.3,56.8],[178.9,68.1],[182.5,84.3],[187,89.1],[190.6,88.5],[194.2,85.9],[196.9,84.3],[199.5,87.5],[201.3,94.9],[205.4,94],[209.4,98.2],[212.5,100.4],[215.2,99.4],[219.2,82.7],[222.8,63.3],[226.4,57.5],[229,68.1],[232.6,79.4],[236.7,88.5],[239.8,84.3],[243,76.9],[245.2,76.9],[246.9,75.2]];
const stochSlowR=[[0,89.8],[3,81],[7.5,60.1],[11.1,47.2],[14.7,39.1],[19.1,38.1],[23.6,40.7],[28.1,49.4],[31.7,53.6],[37,53.6],[41.5,57.5],[46.9,66.5],[53.1,71.4],[57.6,79.4],[63,92.3],[66.5,97.2],[69.2,97.2],[73.3,82.7],[77.3,60.1],[80.9,35.9],[84.4,16.5],[88,9.1],[92,7.8],[97,6.8],[101.4,4.6],[105,8.4],[109.5,19.7],[113.1,31],[117.5,35.9],[121.1,34.9],[123.5,23],[127.9,18.1],[132.4,6.8],[136.9,5.2],[141.4,11.7],[146.7,19.7],[152.1,31],[156.6,43.9],[161,50.4],[165.5,48.8],[170.9,43],[175.4,45.6],[180.7,60.1],[186.1,76.2],[190.6,85.9],[196.9,87.5],[203.1,89.1],[209.4,94],[215.6,98.2],[219.2,95.6],[223.7,82.7],[227.3,71.4],[231.8,65.9],[236.2,73],[241.2,82.7],[244.3,83.3],[246.9,81]];

// ---------- drawn objects ----------
const pitchfork=[[[151.2,69241],[294.4,81321]],[[157.8,68584],[294.4,80127]],[[134.9,65466],[294.4,78925]],[[171,67269],[294.4,77714]],[[177.6,66612],[294.4,76531]]];
const pitchforkHandle=[[151.2,69241],[177.6,66612]];
const wedgeUpper=[[0,76800],[294.4,72952]];
const wedgeLower=[[0,67172],[294.4,63285]];
const forecast=[[224.9,73101],[227.2,73893],[229.8,74546],[233.6,75291],[237.3,75850],[241.1,76055],[243.4,75897],[244.9,75384],[246,74639],[246.4,73707],[247.1,73054],[248.3,72635],[249.8,72523],[252.4,72728],[255.4,73241],[259.2,74266],[262.2,75198],[265.9,76596],[268.9,77901],[270.1,78087],[271.4,77733]];
const forecastHead=[[267.6,77975],[270.1,78115]];
const signalsRed=[[43,72727,72025],[80,72792,72075],[102,72475,71750],[195,74265,73565],[221,72867,72168]];
const signalsTeal=[[18,67650,66950],[27,68254,67555],[103,69344,68626],[132,65485,64760],[169,66045,65336],[231,73538,72848]];
const pivots=[["R2 (80,757.17)",80757.17],["R1 (74,434.33)",74434.33],["P (69,678.17)",69678.17],["S1 (63,355.33)",63355.33],["S2 (58,599.17)",58599.17]];
const weekly=[["(82,674.24)",82674.24,"#388e3c","#2e7031",2],["(78,474.64)",78474.64,"#388e3c","#2e7031",2],["(75,575.56)",75575.56,"#5d5f63","#47494c",2],["(73,299.65)",73299.65,"#5d5f63","#47494c",2],["(71,701.10)",71701.10,"#5d5f63","#47494c",2],["(64,927.55)",64927.55,"#f23645","#a12b35",2]];
const stubs=[[77040,"#f23645"],[75850,"#f23645"],[73445,"#4caf50"],[72235,"#4caf50"]];
const dotted=[[71869,"#ff3b3b"],[70695,"#ff9800"],[66725,"#4caf50"]];
const lastPriceLine=74955;
const priceTicks=[59000,60000,61000,62000,63000,64000,65000,66000,67000,68000,69000,70000,71000,72000,73000,74000,75000,76000,77000,78000,79000,80000,81000,82000];
const dayTicks=[0,12,24,36,48,60,72,84,96,108,120,132,150,162,174,186,198,210,222,234,246,258,270,282,294];
const dayLabels=["7","9","11","13","15","17","19","21","23","25","27","29","<b>Apr</b>","3","5","7","9","11","13","15","17","19","21","23","25"];
const tableHead=["Symbol","Pattern","4H","1D","1W","1M","Bias","Trade"];
const tableRow=["BTCUSD","-","Bearish","Bullish","Bullish","CROSS UP","Mixed","Flat"];

// ---------- geometry ----------
const W=1689,H=1328,L=70,R=1679,T=27,B=1240,XEND=1539;
const X=p=>(p-L)/(R-L), Y=p=>(B-p)/(B-T);
const FONT="Inter, 'Noto Sans', sans-serif";
const PMAX=294.45, PMIN=-0.06;
const traces=[];
const base={hoverinfo:'skip',showlegend:false};
function line(pts,color,width,opt){opt=opt||{};
  traces.push(Object.assign({},base,{type:'scatter',mode:'lines',x:pts.map(p=>p[0]),y:pts.map(p=>p[1]),yaxis:opt.axis||'y',
    line:{color:color,width:width,dash:opt.dash||'solid',simplify:false,shape:opt.shape||'linear',smoothing:opt.smoothing}}));}
function coloured(pts,up,down,width,axis){
  let start=0;
  for(let k=1;k<=pts.length;k++){
    if(k===pts.length||pts[k][2]!==pts[start][2]){
      const seg=pts.slice(start,Math.min(k+1,pts.length));
      line(seg,pts[start][2]?up:down,width,{axis:axis});
      start=k;
    }
  }
}
function label(i,p,text,color,size,pos,axis){
  traces.push(Object.assign({},base,{type:'scatter',mode:'text',x:[i],y:[p],text:[text],textposition:pos,yaxis:axis||'y',cliponaxis:true,
    textfont:{family:FONT,size:size,color:color}}));}

// watermark
label(147.1,70470,"4h","#7d7d7d",76,"middle center");
// volume profile
const barBase={...base,type:'bar',orientation:'h',width:76,yaxis:'y'};
traces.push({...barBase,y:profilePrice,x:profileBuy,base:0,marker:{color:'#1c3822',line:{width:0}}});
traces.push({...barBase,y:profilePrice,x:profileTotal.map((v,k)=>v-profileBuy[k]),base:profileBuy,marker:{color:'#45181a',line:{width:0}}});
// wedge, pitchfork
line(wedgeUpper,'#55585c',1.2);line(wedgeLower,'#55585c',1.2);
pitchfork.forEach(l=>line(l,'#6d6f73',1.2));line(pitchforkHandle,'#6d6f73',1.2);
// levels
pivots.forEach(r=>{line([[151,r[1]],[PMAX,r[1]]],'#8c8e92',1.3);label(148.2,r[1]-50,r[0],'#77797d',13.3,'middle left');});
weekly.forEach(r=>{line([[141.7,r[1]],[254.1,r[1]]],r[2],r[4]);label(256.2,r[1]-50,r[0],r[3],12.8,'middle right');});
dotted.forEach(r=>line([[PMIN,r[0]],[293.8,r[0]]],r[1],2,{dash:'2px,4px'}));
line([[PMIN,lastPriceLine],[PMAX,lastPriceLine]],'#ff2020',1.2,{dash:'1px,2px'});
stubs.forEach(r=>line([[247,r[0]],[253,r[0]]],r[1],2));
// bands
[upper1,upper2,upper3].forEach(b=>line(b,'#8a2c36',1.1));
[lower1,lower2,lower3].forEach(b=>line(b,'#35753b',1.1));
// moving averages
coloured(slowMA,'#0a5a0a','#a80000',2.6);
coloured(fastMA,'#0a660a','#a80000',4.5);
// signals
signalsRed.forEach(s=>line([[s[0],s[1]],[s[0],s[2]]],'#f05050',1));
signalsTeal.forEach(s=>line([[s[0],s[1]],[s[0],s[2]]],'#00d084',1));
line([[0,69960],[0,69250]],'#e87a50',1.5);

// candles on an overlaying axis so they sit above every line
const idx=candles.map((_,k)=>k);
const opens=candles.map(r=>r[0]),highs=candles.map(r=>r[1]),lows=candles.map(r=>r[2]),closes=candles.map(r=>r[3]);
traces.push({...base,type:'candlestick',yaxis:'y6',x:idx,open:closes,close:closes,high:highs,low:lows,whiskerwidth:0,
  increasing:{line:{color:'#ffffff',width:1},fillcolor:'#ffffff'},decreasing:{line:{color:'#ffffff',width:1},fillcolor:'#ffffff'}});
traces.push({...base,type:'candlestick',yaxis:'y6',x:idx,open:opens,close:closes,
  high:candles.map(r=>Math.max(r[0],r[3])),low:candles.map(r=>Math.min(r[0],r[3])),whiskerwidth:0,
  increasing:{line:{color:'#087a08',width:.4},fillcolor:'#087a08'},decreasing:{line:{color:'#ff0000',width:.4},fillcolor:'#ff0000'}});
line(forecast,'#ff9800',2.2,{axis:'y6',dash:'3px,3px',shape:'spline',smoothing:.8});
line(forecastHead,'#ff9800',2.2,{axis:'y6',dash:'3px,3px'});

// volume pane
traces.push({...base,type:'bar',yaxis:'y2',x:idx,y:volume,width:.62,marker:{color:volumeUp.map(u=>u?'#2a5c2c':'#7b2c2c'),line:{width:0}}});
line([[0,0],[247,0]],'#9c3fb5',1.4,{axis:'y3'});
coloured(momentum,'#4caf50','#ff5252',3.6,'y3');

// stochastic pane
line([[PMIN,80],[PMAX,80]],'#ff3030',1.3,{axis:'y4'});
line([[PMIN,20],[PMAX,20]],'#4caf50',1.4,{axis:'y4'});
line([[PMIN,50],[PMAX,50]],'#4a4c50',1,{axis:'y4',dash:'5px,5px'});
line(stochSlowG,'#3f9a45',1,{axis:'y4'});
line(stochSlowR,'#e53030',1,{axis:'y4'});
line(stochFastG,'#3f9a45',1,{axis:'y4'});
line(stochFastR,'#e53030',1,{axis:'y4'});

// ---------- shapes and texts in page pixels ----------
const shapes=[],notes=[];
function rect(x0,y0,x1,y1,fill,layer,stroke){shapes.push({type:'rect',xref:'paper',yref:'paper',x0:X(x0),x1:X(x1),y0:Y(y0),y1:Y(y1),fillcolor:fill,layer:layer||'above',line:stroke?{color:stroke,width:1.5}:{width:0}});}
function note(x,y,text,color,size,anchor,extra){notes.push(Object.assign({xref:'paper',yref:'paper',x:X(x),y:Y(y),text:text,showarrow:false,xanchor:anchor||'left',yanchor:'middle',font:{family:FONT,size:size||13,color:color||'#9a9a9a'}},extra||{}));}
function sep(y){shapes.push({type:'line',xref:'paper',yref:'paper',x0:X(10.5),x1:X(1678),y0:Y(y),y1:Y(y),layer:'above',line:{color:'#2d2e38',width:1.3}});}
rect(10,27,1678,1267,'#000000','below','#2e2e2e');
sep(891);sep(1077);sep(1111);
// masks that clip the axis labels like the reference
rect(10.8,1241,69.5,1266,'#000000');rect(1539.3,1240.5,1677,1266,'#000000');
// circles
[[41,'Z'],[1579,'A'],[1649,'B']].forEach(c=>{
  shapes.push({type:'circle',xref:'paper',yref:'paper',x0:X(c[0]-9.5),x1:X(c[0]+9.5),y0:Y(1254-9.5),y1:Y(1254+9.5),fillcolor:'#1c1c1c',layer:'above',line:{width:0}});
  note(c[0],1254.5,c[1],'#6f6f6f',11,'center');
});
// table
const cols=[[563,631],[632,691],[692,752],[753,807],[808,862],[863,945],[946,996],[997,1046]];
const rowFill=['#363a45','#17181c','#700000','#005000','#005000','#00e676','#ff9800','#17181c'];
const rowText=['#d1d4dc','#d1d4dc','#e4e4e4','#d8e8d8','#d8e8d8','#2e6b55','#f5f5f5','#d1d4dc'];
cols.forEach((c,k)=>{
  rect(c[0],37.3,c[1],63,'#363a45');
  rect(c[0],64,c[1],89.8,rowFill[k]);
  note((c[0]+c[1])/2,49.6,tableHead[k],'#d1d4dc',13.5,'center');
  note((c[0]+c[1])/2,77,tableRow[k],rowText[k],13.5,'center');
});
// last price tag
rect(1540,300,1613.5,330.7,'#ff0000');
note(1546,307.8,'74,975.00','#ffffff',12.6);
note(1546,322,'08:20','#ffd6d6',12.6);
// info
note(1350.5,50,'Range Width:&nbsp;&nbsp;&nbsp;&nbsp;&nbsp;3.24 % (D)','#8f8f8f',13.5);
note(1350.5,77,'Price near W Resistance','#8f8f8f',13.5);
// header and footer
note(8,15.6,'Tickmill created with TradingView.com, Apr 17, 2026 08:51 UTC+1','#d4d4d4',12);
note(46,1298,'TradingView','#e6e6e6',20,'left',{font:{family:"Inter, sans-serif",size:20,color:'#e6e6e6',weight:600}});
shapes.push({type:'path',xref:'paper',yref:'paper',layer:'above',fillcolor:'#e6e6e6',line:{width:0},
  path:`M${X(12)} ${Y(1290.5)} L${X(27.5)} ${Y(1290.5)} L${X(27.5)} ${Y(1305)} L${X(20)} ${Y(1305)} L${X(20)} ${Y(1297)} L${X(12)} ${Y(1297)} Z M${X(35)} ${Y(1290.5)} L${X(42)} ${Y(1290.5)} L${X(36)} ${Y(1305)} L${X(29)} ${Y(1305)} Z`});
shapes.push({type:'circle',xref:'paper',yref:'paper',layer:'above',fillcolor:'#e6e6e6',line:{width:0},x0:X(28.5),x1:X(34.5),y0:Y(1291),y1:Y(1297)});

// ---------- axes ----------
const tick={family:FONT,size:12.2,color:'#9a9a9a'};
const noTick={tickcolor:'rgba(0,0,0,0)',showgrid:false,zeroline:false,showline:false,tickfont:tick,ticks:'outside',fixedrange:true};
const dom1=[Y(891),1],dom2=[Y(1077),Y(891)],dom3=[0,Y(1111)];
const PR=[58670,82830];
const layout={width:W,height:H,autosize:false,margin:{l:L,r:W-R,t:T,b:H-B,pad:0},paper_bgcolor:'#1e1e1e',plot_bgcolor:'#000000',
  showlegend:false,barmode:'overlay',boxgap:.28,boxgroupgap:0,dragmode:false,hovermode:false,shapes:shapes,annotations:notes,
  xaxis:{...noTick,domain:[0,X(XEND)],range:[PMIN,PMAX],anchor:'y4',tickmode:'array',tickvals:dayTicks,ticktext:dayLabels,ticklen:4,tickfont:{...tick,size:12.6},rangeslider:{visible:false}},
  yaxis:{...noTick,domain:dom1,range:PR,side:'right',anchor:'free',position:X(XEND),tickmode:'array',tickvals:priceTicks,tickformat:',.2f',ticklen:6},
  yaxis6:{...noTick,domain:dom1,range:PR,overlaying:'y',visible:false},
  yaxis2:{...noTick,domain:dom2,range:[-1,144.5],side:'right',anchor:'free',position:X(XEND),tickmode:'array',tickvals:[25,50,75,100,125],ticktext:['25\u2009K','50\u2009K','75\u2009K','100\u2009K','125\u2009K'],ticklen:6},
  yaxis3:{...noTick,domain:dom2,range:[-99.7,90],overlaying:'y2',side:'right',anchor:'free',position:X(1625),tickmode:'array',tickvals:[80,40,0,-40,-80],ticktext:['80.00','40.00','0.00','\u221240.00','\u221280.00'],ticklen:0},
  yaxis4:{...noTick,domain:dom3,range:[-10.9,113.9],side:'left',anchor:'x',tickmode:'array',tickvals:[0,40,80],tickformat:'.2f',ticklen:10},
  yaxis5:{...noTick,domain:dom3,range:[-2.8,106],overlaying:'y4',side:'right',anchor:'free',position:X(XEND),tickmode:'array',tickvals:[0,50,100],tickformat:'.2f',ticklen:6}
};
// an invisible trace keeps the right-hand stochastic scale on the chart
traces.push({...base,type:'scatter',mode:'lines',x:[0,1],y:[0,100],yaxis:'y5',line:{width:0,color:'rgba(0,0,0,0)'}});
Plotly.newPlot('c',traces,layout,{displayModeBar:false,staticPlot:true});
</script></body></html>
